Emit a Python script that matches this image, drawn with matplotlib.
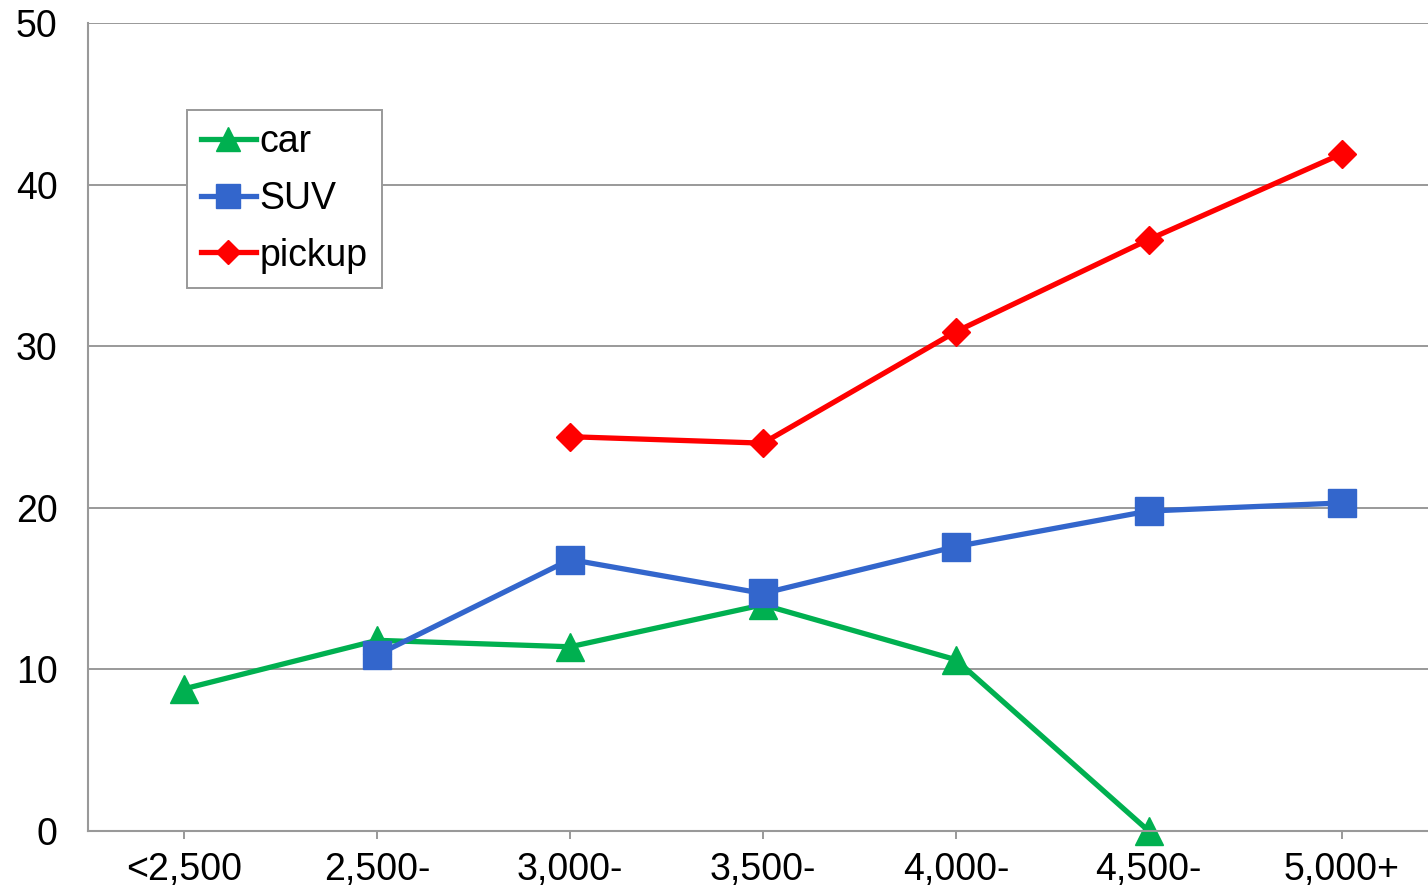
import matplotlib
matplotlib.use('Agg')
import matplotlib.pyplot as plt
import numpy as np

plt.rcParams['font.family'] = ['Liberation Sans', 'DejaVu Sans']

categories = ["<2,500", "2,500-", "3,000-", "3,500-", "4,000-", "4,500-", "5,000+"]
car = [8.8, 11.8, 11.4, 14.0, 10.6, 0.0, np.nan]
suv = [np.nan, 10.9, 16.8, 14.7, 17.6, 19.8, 20.3]
pickup = [np.nan, np.nan, 24.4, 24.0, 30.9, 36.6, 41.9]

x = np.arange(len(categories))
grid_col = '#999999'

fig = plt.figure(figsize=(14.28, 8.94), dpi=100)
ax = fig.add_axes([88 / 1428, 63 / 894, 1350 / 1428, 808 / 894])

ax.plot(x, car, color='#00B050', lw=3.8, marker='^', ms=20, label='car', clip_on=False)
ax.plot(x, suv, color='#3366CC', lw=3.8, marker='s', ms=19.5, label='SUV', clip_on=False)
ax.plot(x, pickup, color='#FF0000', lw=3.8, marker='D', ms=14, label='pickup', clip_on=False)

ax.set_xlim(-0.5, len(categories) - 0.5)
ax.set_ylim(0, 50)
ax.set_yticks(range(0, 51, 10))
ax.set_xticks(x)
ax.set_xticklabels(categories)
ax.yaxis.grid(True, color=grid_col, lw=1.4)
ax.set_axisbelow(True)
ax.tick_params(axis='y', length=0, pad=22, labelsize=27)
ax.tick_params(axis='x', length=6, width=1.4, color=grid_col, pad=9, labelsize=27)

for side in ['top', 'right']:
    ax.spines[side].set_visible(False)
for side in ['left', 'bottom']:
    ax.spines[side].set_color(grid_col)
    ax.spines[side].set_linewidth(1.5)

leg = ax.legend(loc='upper left', bbox_to_anchor=(187 / 1428, 1 - 110 / 894),
                bbox_transform=fig.transFigure, borderaxespad=0, fontsize=27,
                fancybox=False, framealpha=1, edgecolor=grid_col,
                handlelength=1.45, handletextpad=0.1, labelspacing=0.55,
                borderpad=0.38, markerscale=0.85)
leg.get_frame().set_linewidth(1.4)

fig.savefig('out.png', dpi=100)
